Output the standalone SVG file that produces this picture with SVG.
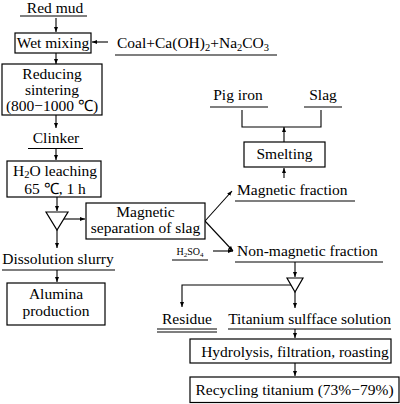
<svg xmlns="http://www.w3.org/2000/svg" width="400" height="404" viewBox="0 0 400 404">
<defs>
<marker id="ah" viewBox="0 0 10 10" refX="10" refY="5" markerWidth="5" markerHeight="5" orient="auto" markerUnits="userSpaceOnUse">
<path d="M0,1 L10,5 L0,9 Z" fill="#000"/>
</marker>
</defs>
<style>
text{font-family:"Liberation Serif","Times New Roman",serif;font-size:15.5px;fill:#000}
.sm{font-size:10px}
.box{fill:#fff;stroke:#000;stroke-width:1.2}
.ln{fill:none;stroke:#000;stroke-width:1.1}
.ar{fill:none;stroke:#000;stroke-width:1.1;marker-end:url(#ah)}
.sub{font-size:10.5px}
</style>
<rect width="400" height="404" fill="#fff"/>

<g id="connectors">
<line class="ar" x1="56" y1="18" x2="56" y2="32"/>
<line class="ar" x1="108" y1="42" x2="92" y2="42"/>
<line class="ar" x1="56" y1="53" x2="56" y2="64"/>
<line class="ar" x1="56" y1="115" x2="56" y2="128"/>
<line class="ar" x1="56" y1="149" x2="56" y2="160"/>
<line class="ar" x1="57" y1="197" x2="57" y2="211"/>
<line class="ar" x1="64" y1="219" x2="85" y2="219"/>
<line class="ar" x1="57" y1="230" x2="57" y2="248"/>
<line class="ar" x1="57" y1="270" x2="57" y2="282"/>
<line class="ar" x1="205" y1="221" x2="232" y2="191"/>
<line class="ar" x1="205" y1="221" x2="233" y2="251"/>
<line class="ar" x1="213" y1="251" x2="233" y2="251"/>
<line class="ar" x1="284" y1="178" x2="284" y2="168"/>
<line class="ar" x1="284" y1="142" x2="284" y2="127"/>
<polyline class="ln" points="242,110 242,127 321,127 321,110"/>
<line class="ar" x1="295" y1="262" x2="295" y2="277"/>
<polyline class="ar" points="291,285 182,285 182,307"/>
<line class="ar" x1="295" y1="292" x2="295" y2="308"/>
<line class="ar" x1="295" y1="329" x2="295" y2="338"/>
<line class="ar" x1="295" y1="363" x2="295" y2="376"/>
</g>

<g id="red-mud">
<text x="55" y="13" text-anchor="middle">Red mud</text>
<line class="ln" x1="20" y1="16" x2="87" y2="16"/>
</g>
<g id="wet-mixing">
<rect class="box" x="15" y="33" width="76" height="20"/>
<text x="53" y="47.5" text-anchor="middle">Wet mixing</text>
</g>
<g id="additives">
<text x="117" y="48">Coal+Ca(OH)<tspan class="sub" baseline-shift="-3">2</tspan>+Na<tspan class="sub" baseline-shift="-3">2</tspan>CO<tspan class="sub" baseline-shift="-3">3</tspan></text>
<line class="ln" x1="115" y1="55" x2="277" y2="55"/>
</g>
<g id="reducing-sintering">
<rect class="box" x="2" y="64" width="100" height="51"/>
<text x="52" y="79" text-anchor="middle">Reducing</text>
<text x="52" y="95" text-anchor="middle">sintering</text>
<text x="52" y="111" text-anchor="middle">(800−1000 ℃)</text>
</g>
<g id="clinker">
<text x="56" y="143" text-anchor="middle">Clinker</text>
<line class="ln" x1="28" y1="148.5" x2="83" y2="148.5"/>
</g>
<g id="h2o-leaching">
<rect class="box" x="7" y="161" width="94" height="36"/>
<text x="55" y="176" text-anchor="middle">H<tspan class="sub" baseline-shift="-2">2</tspan>O leaching</text>
<text x="55" y="193.5" text-anchor="middle">65 ℃, 1 h</text>
</g>
<g id="splitter-1">
<polygon class="box" points="46,212 68,212 57,230"/>
</g>
<g id="magnetic-separation">
<rect class="box" x="86" y="203" width="119" height="36"/>
<text x="145.5" y="217" text-anchor="middle">Magnetic</text>
<text x="145.5" y="233" text-anchor="middle">separation of slag</text>
</g>
<g id="dissolution-slurry">
<text x="58" y="264" text-anchor="middle">Dissolution slurry</text>
<line class="ln" x1="2" y1="270" x2="115" y2="270"/>
</g>
<g id="alumina-production">
<rect class="box" x="7" y="283" width="98" height="42"/>
<text x="56" y="299" text-anchor="middle">Alumina</text>
<text x="56" y="316" text-anchor="middle">production</text>
</g>
<g id="pig-iron">
<text x="238" y="100" text-anchor="middle">Pig iron</text>
<line class="ln" x1="210" y1="107" x2="268" y2="107"/>
</g>
<g id="slag">
<text x="323" y="100" text-anchor="middle">Slag</text>
<line class="ln" x1="304" y1="107" x2="342" y2="107"/>
</g>
<g id="smelting">
<rect class="box" x="244" y="142" width="81" height="25"/>
<text x="284.5" y="159" text-anchor="middle">Smelting</text>
</g>
<g id="magnetic-fraction">
<text x="237" y="195">Magnetic fraction</text>
<line class="ln" x1="235" y1="201" x2="355" y2="201"/>
</g>
<g id="h2so4">
<text class="sm" x="190" y="255" text-anchor="middle">H<tspan font-size="7" baseline-shift="-2">2</tspan>SO<tspan font-size="7" baseline-shift="-2">4</tspan></text>
<line class="ln" x1="172" y1="260" x2="208" y2="260"/>
</g>
<g id="non-magnetic-fraction">
<text x="237" y="256">Non-magnetic fraction</text>
<line class="ln" x1="235" y1="262" x2="383" y2="262"/>
</g>
<g id="splitter-2">
<polygon class="box" points="287,278 303,278 295,292"/>
</g>
<g id="residue">
<text x="187" y="324" text-anchor="middle">Residue</text>
<line class="ln" x1="157" y1="329" x2="217" y2="329"/>
<line class="ln" x1="157" y1="332" x2="217" y2="332"/>
</g>
<g id="titanium-solution">
<text x="309.5" y="324" text-anchor="middle">Titanium sulfface solution</text>
<line class="ln" x1="228" y1="329" x2="391" y2="329"/>
</g>
<g id="hydrolysis">
<rect class="box" x="190" y="339" width="201" height="24"/>
<text x="295" y="357" text-anchor="middle">Hydrolysis, filtration, roasting</text>
</g>
<g id="recycling-titanium">
<rect class="box" x="190" y="377" width="209" height="25.5"/>
<text x="294.5" y="395" text-anchor="middle">Recycling titanium (73%−79%)</text>
</g>
</svg>
